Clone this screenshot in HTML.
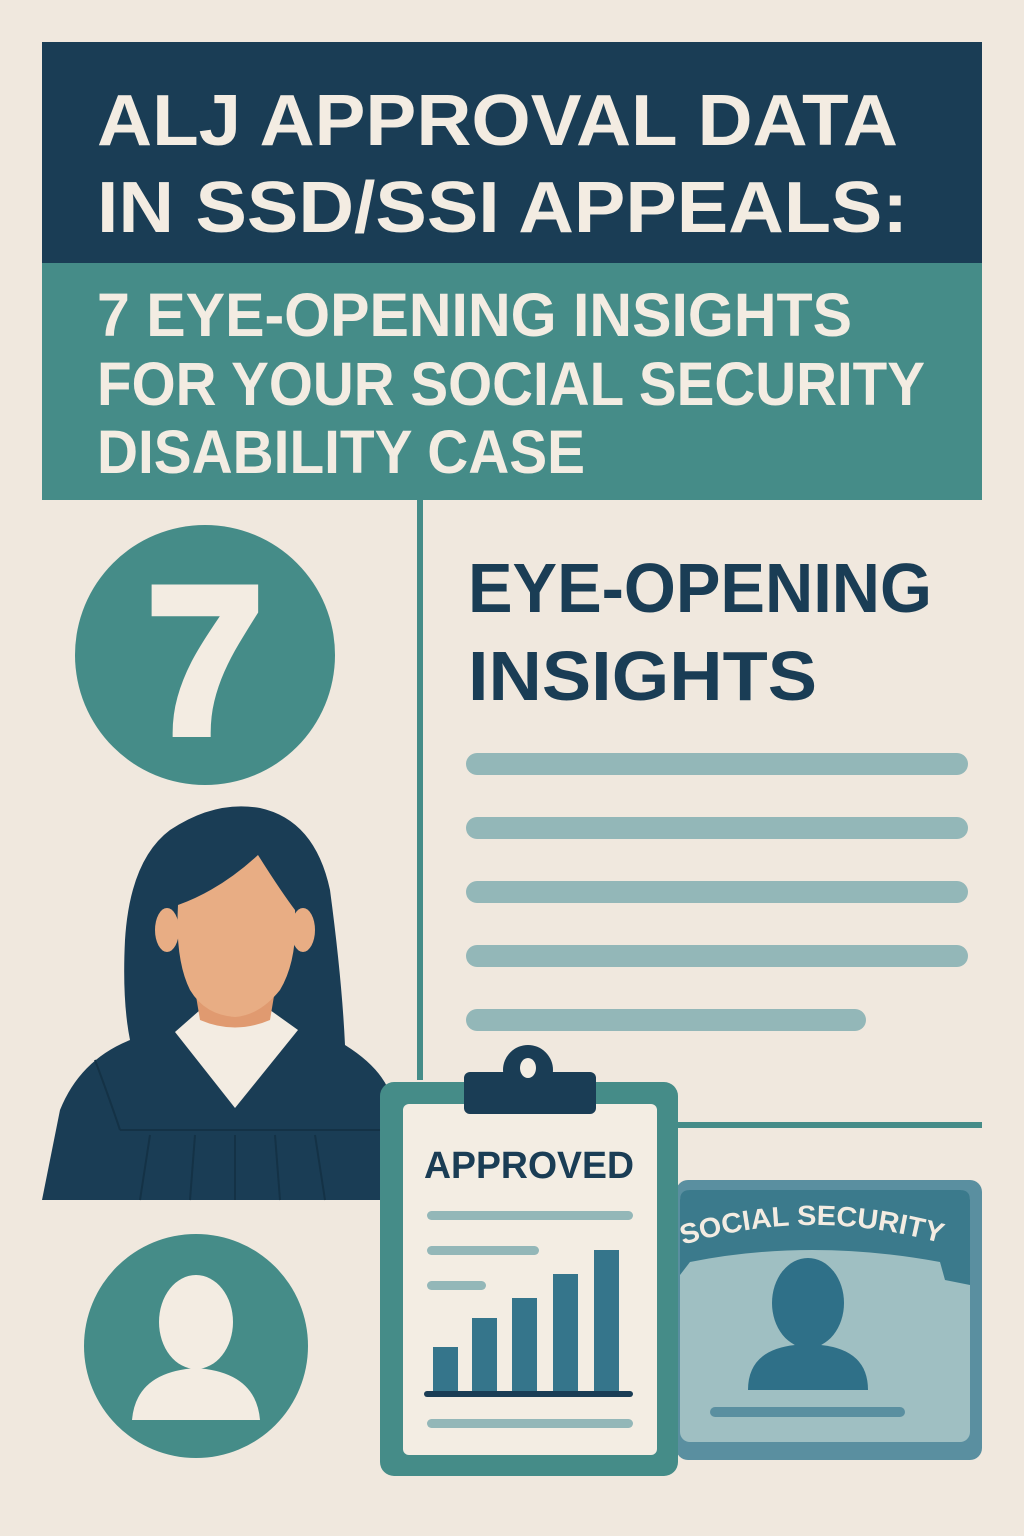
<!DOCTYPE html>
<html><head><meta charset="utf-8"><style>html,body{margin:0;padding:0;background:#f0e8de}svg{display:block}</style></head>
<body>
<svg width="1024" height="1536" viewBox="0 0 1024 1536" xmlns="http://www.w3.org/2000/svg" font-family="'Liberation Sans', sans-serif" font-weight="bold">
<rect width="1024" height="1536" fill="#f0e8de"/>
<rect x="42" y="42" width="940" height="222" fill="#1a3d55"/>
<rect x="42" y="263" width="940" height="237" fill="#458c88"/>
<g fill="#f3ece2">
<text x="97" y="145" font-size="72" textLength="801" lengthAdjust="spacingAndGlyphs">ALJ APPROVAL DATA</text>
<text x="97" y="232" font-size="72" textLength="811" lengthAdjust="spacingAndGlyphs">IN SSD/SSI APPEALS:</text>
<text x="97" y="336" font-size="61" textLength="755" lengthAdjust="spacingAndGlyphs">7 EYE-OPENING INSIGHTS</text>
<text x="97" y="405" font-size="61" textLength="828" lengthAdjust="spacingAndGlyphs">FOR YOUR SOCIAL SECURITY</text>
<text x="97" y="473" font-size="61" textLength="488" lengthAdjust="spacingAndGlyphs">DISABILITY CASE</text>
</g>
<rect x="417" y="500" width="6" height="580" fill="#458c88"/>
<rect x="676" y="1122" width="306" height="6" fill="#458c88"/>
<circle cx="205" cy="655" r="130" fill="#458c88"/>
<text x="205" y="733" font-size="210" fill="#f3ece2" stroke="#f3ece2" stroke-width="8" text-anchor="middle">7</text>
<g fill="#1a3d55">
<text x="468" y="612" font-size="70" textLength="464" lengthAdjust="spacingAndGlyphs">EYE-OPENING</text>
<text x="468" y="700" font-size="70" textLength="349" lengthAdjust="spacingAndGlyphs">INSIGHTS</text>
</g>
<g fill="#93b7b8">
<rect x="466" y="753" width="502" height="22" rx="11"/>
<rect x="466" y="817" width="502" height="22" rx="11"/>
<rect x="466" y="881" width="502" height="22" rx="11"/>
<rect x="466" y="945" width="502" height="22" rx="11"/>
<rect x="466" y="1009" width="400" height="22" rx="11"/>
</g>
<!-- woman -->
<path d="M42 1200 L60 1110 Q80 1060 130 1040 Q122 1000 125 940 Q130 860 170 830 Q215 800 260 808 Q315 820 330 890 Q342 980 345 1045 Q385 1070 392 1100 L392 1200 Z" fill="#1a3d55"/>
<path d="M175 1032 L235 1108 L298 1030 L270 1010 L200 1010 Z" fill="#f3ece2"/>
<path d="M195 990 L200 1020 Q235 1035 270 1020 L275 990 Z" fill="#e09a70"/>
<ellipse cx="167" cy="930" rx="12" ry="22" fill="#e8ad84"/>
<ellipse cx="303" cy="930" rx="12" ry="22" fill="#e8ad84"/>
<path d="M178 905 Q220 890 258 855 Q280 890 295 910 Q298 960 280 990 Q260 1015 235 1017 Q205 1015 190 990 Q175 960 178 905 Z" fill="#e8ad84"/>
<g stroke="#143246" stroke-width="2" fill="none"><path d="M120 1130 L392 1130"/><path d="M150 1135 L140 1200"/><path d="M195 1135 L190 1200"/><path d="M235 1135 L235 1200"/><path d="M275 1135 L280 1200"/><path d="M315 1135 L325 1200"/><path d="M95 1060 Q110 1100 120 1130"/></g>
<circle cx="196" cy="1346" r="112" fill="#458c88"/>
<ellipse cx="196" cy="1322" rx="37" ry="47" fill="#f3ece2"/>
<path d="M132 1420 Q136 1372 196 1368 Q256 1372 260 1420 Z" fill="#f3ece2"/>
<!-- ID card -->
<rect x="676" y="1180" width="306" height="280" rx="12" fill="#5a8fa0"/>
<rect x="680" y="1190" width="290" height="252" rx="10" fill="#9fbfc2"/>
<path d="M680 1200 Q680 1190 690 1190 L960 1190 Q970 1190 970 1200 L970 1285 L945 1280 L940 1262 Q810 1238 690 1262 L680 1275 Z" fill="#3b7a8c"/>
<path id="arc" d="M683 1245 Q810 1205 948 1245" fill="none"/>
<text font-size="28" fill="#f3ece2"><textPath href="#arc" textLength="262" lengthAdjust="spacingAndGlyphs">SOCIAL SECURITY</textPath></text>
<ellipse cx="808" cy="1303" rx="36" ry="45" fill="#2f7088"/>
<path d="M748 1390 Q748 1350 795 1345 L821 1345 Q868 1350 868 1390 Z" fill="#2f7088"/>
<rect x="710" y="1407" width="195" height="10" rx="5" fill="#5a8fa0"/>
<!-- clipboard -->
<rect x="380" y="1082" width="298" height="394" rx="14" fill="#458c88"/>
<rect x="403" y="1104" width="254" height="351" rx="6" fill="#f3ede3"/>
<circle cx="528" cy="1070" r="25" fill="#1a3d55"/>
<rect x="464" y="1072" width="132" height="42" rx="6" fill="#1a3d55"/>
<ellipse cx="528" cy="1068" rx="8" ry="10" fill="#f3ede3"/>
<text x="424" y="1178" font-size="38" fill="#1a3d55" textLength="210" lengthAdjust="spacingAndGlyphs">APPROVED</text>
<g fill="#93b7b8">
<rect x="427" y="1211" width="206" height="9" rx="4.5"/>
<rect x="427" y="1246" width="112" height="9" rx="4.5"/>
<rect x="427" y="1281" width="59" height="9" rx="4.5"/>
<rect x="427" y="1419" width="206" height="9" rx="4.5"/>
</g>
<g fill="#35758b">
<rect x="433" y="1347" width="25" height="46"/>
<rect x="472" y="1318" width="25" height="75"/>
<rect x="512" y="1298" width="25" height="95"/>
<rect x="553" y="1274" width="25" height="119"/>
<rect x="594" y="1250" width="25" height="143"/>
</g>
<rect x="424" y="1391" width="209" height="6" rx="3" fill="#1a3d55"/>
</svg>
</body></html>
